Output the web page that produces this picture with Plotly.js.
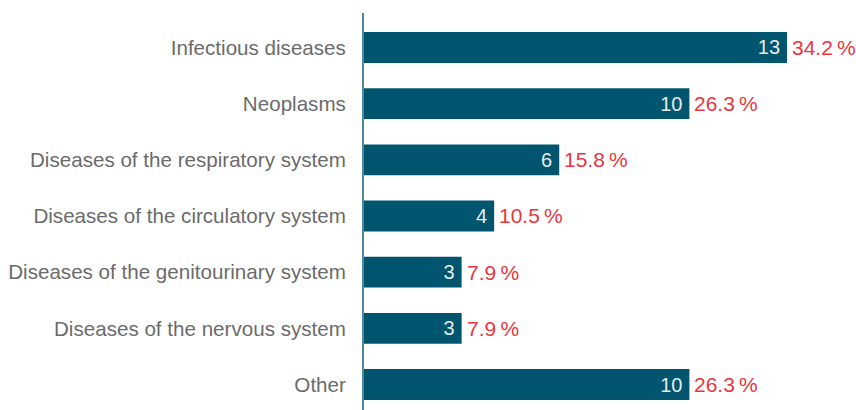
<!DOCTYPE html>
<html>
<head>
<meta charset="utf-8">
<script src="https://cdn.plot.ly/plotly-3.0.1.min.js"></script>
<style>html,body{margin:0;padding:0;background:#fff;}#chart{width:856px;height:410px;}</style>
</head>
<body>
<div id="chart"></div>
<script>
const categories = ["Infectious diseases","Neoplasms","Diseases of the respiratory system","Diseases of the circulatory system","Diseases of the genitourinary system","Diseases of the nervous system","Other"];
const counts = [13, 10, 6, 4, 3, 3, 10];
const percents = ["34.2\u2009%","26.3\u2009%","15.8\u2009%","10.5\u2009%","7.9\u2009%","7.9\u2009%","26.3\u2009%"];

const FONT = "'Liberation Sans', Arial, sans-serif";

const trace = {
  type: "bar",
  orientation: "h",
  y: categories,
  x: counts,
  text: counts.map(v => String(v) + "\u2009"),
  textposition: "inside",
  insidetextanchor: "end",
  textfont: {family: FONT, size: 20, color: "#e3ecef"},
  marker: {color: "#02556e"},
  width: 0.55,
  hoverinfo: "none",
  cliponaxis: false
};

const annotations = categories.map((c, i) => ({
  x: counts[i], y: c, xref: "x", yref: "y",
  text: percents[i], showarrow: false,
  xanchor: "left", yanchor: "middle", xshift: 3,
  font: {family: FONT, size: 21, color: "#ea3540"}
}));

const layout = {
  width: 856, height: 410,
  margin: {l: 364, r: 0, t: 13, b: 0, pad: 0},
  paper_bgcolor: "#ffffff", plot_bgcolor: "#ffffff",
  showlegend: false,
  font: {family: FONT},
  xaxis: {range: [0, 15.12], showgrid: false, zeroline: false, showticklabels: false, showline: false, fixedrange: true},
  yaxis: {
    type: "category",
    categoryorder: "array", categoryarray: categories,
    range: [6.454, -0.614],
    showgrid: false, zeroline: false,
    showline: true, linecolor: "#4f8b9e", linewidth: 2,
    ticks: "", ticklabelstandoff: 12,
    tickfont: {family: FONT, size: 20.6, color: "#6b6b6b"}
  },
  annotations: annotations
};

Plotly.newPlot("chart", [trace], layout, {staticPlot: true, displayModeBar: false});
</script>
</body>
</html>
